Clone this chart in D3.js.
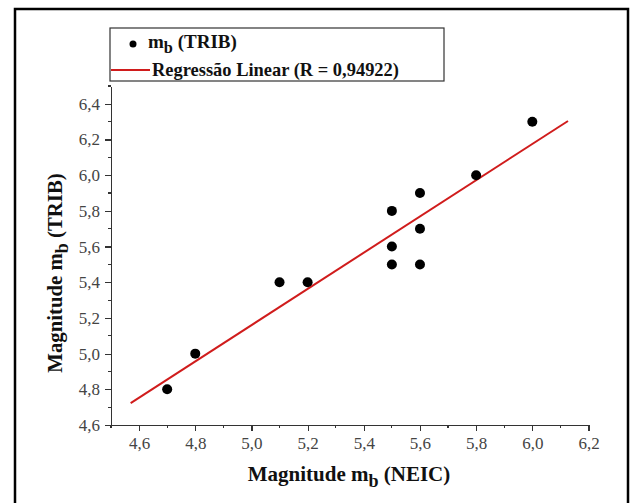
<!DOCTYPE html>
<html>
	<head>
		<meta charset="utf-8">
		<title>mb TRIB x NEIC</title>
		<script type="text/javascript" src="https://d3js.org/d3.v7.min.js"></script>
		<style type="text/css">
			body, html {
				margin: 0;
				padding: 0;
				background: #fff;
			}
			svg text {
				font-family: "Liberation Serif", Tinos, "Times New Roman", Times, "DejaVu Serif", serif;
			}
			.axis path, .axis line {
				stroke: #333;
				stroke-width: 1.2px;
				shape-rendering: crispEdges;
			}
			.axis text {
				fill: #444;
				font-size: 17px;
			}
			.title, .legend text {
				font-weight: bold;
				fill: #111;
			}
		</style>
	</head>
	<body>
		<div id="chart"></div>
		<script type="text/javascript">
			// data
			var neic = [4.7, 4.8, 5.1, 5.2, 5.5, 5.5, 5.5, 5.6, 5.6, 5.6, 5.8, 6.0];
			var trib = [4.8, 5.0, 5.4, 5.4, 5.8, 5.6, 5.5, 5.9, 5.7, 5.5, 6.0, 6.3];
			// ends of the fitted line (x, y)
			var fitX = [4.57, 6.127];
			var fitY = [4.723, 6.304];
			var xTicks = [4.6, 4.8, 5.0, 5.2, 5.4, 5.6, 5.8, 6.0, 6.2];
			var yTicks = [4.6, 4.8, 5.0, 5.2, 5.4, 5.6, 5.8, 6.0, 6.2, 6.4];
			var xMinor = [4.5, 4.7, 4.9, 5.1, 5.3, 5.5, 5.7, 5.9, 6.1];
			var yMinor = [4.7, 4.9, 5.1, 5.3, 5.5, 5.7, 5.9, 6.1, 6.3, 6.5];
			var rText = "Regressão Linear (R = 0,94922)";

			var W = 631, H = 503;
			var svg = d3.select("#chart").append("svg")
				.attr("width", W)
				.attr("height", H)
				.style("display", "block");

			// text with a subscript b, sized so it spans "len" px
			function subText(g, pre, post, len, dy) {
				var t = g.append("text");
				t.append("tspan").text(pre);
				var s = t.append("tspan").attr("dy", dy).text("b");
				t.append("tspan").attr("dy", -dy).text(post);
				t.attr("font-size", 18);
				s.attr("font-size", 15.5);
				var k = len / t.node().getComputedTextLength();
				t.attr("font-size", 18 * k);
				s.attr("font-size", 15.5 * k);
				return t;
			}

			// outer frame (bottom edge is cut off in the picture)
			svg.append("path")
				.attr("d", "M15," + (H + 5) + "V9H628V" + (H + 5))
				.attr("fill", "none")
				.attr("stroke", "#000")
				.attr("stroke-width", 2.5);

			var x = d3.scaleLinear().domain([4.5, 6.2]).range([111, 588.5]);
			var y = d3.scaleLinear().domain([4.6, 6.5]).range([425, 86]);
			var fmt = function(d) { return d3.format(".1f")(d).replace(".", ","); };

			var gx = svg.append("g")
				.attr("class", "axis")
				.attr("transform", "translate(0," + y(4.6) + ")")
				.call(d3.axisBottom(x).tickValues(xTicks).tickFormat(fmt)
					.tickSizeInner(6).tickSizeOuter(0).tickPadding(6));
			gx.selectAll(".minor").data(xMinor).enter().append("line")
				.attr("class", "minor")
				.attr("x1", function(d) { return x(d); })
				.attr("x2", function(d) { return x(d); })
				.attr("y1", 0).attr("y2", 3);

			var gy = svg.append("g")
				.attr("class", "axis")
				.attr("transform", "translate(" + x(4.5) + ",0)")
				.call(d3.axisLeft(y).tickValues(yTicks).tickFormat(fmt)
					.tickSizeInner(6).tickSizeOuter(0).tickPadding(5));
			gy.selectAll(".minor").data(yMinor).enter().append("line")
				.attr("class", "minor")
				.attr("y1", function(d) { return y(d); })
				.attr("y2", function(d) { return y(d); })
				.attr("x1", 0).attr("x2", -3);

			svg.selectAll(".axis").attr("font-family", null);

			// regression line
			svg.append("line")
				.attr("x1", x(fitX[0])).attr("y1", y(fitY[0]))
				.attr("x2", x(fitX[1])).attr("y2", y(fitY[1]))
				.attr("stroke", "#d01c1c")
				.attr("stroke-width", 2);

			svg.selectAll(".dot").data(neic).enter().append("circle")
				.attr("class", "dot")
				.attr("cx", function(d) { return x(d); })
				.attr("cy", function(d, i) { return y(trib[i]); })
				.attr("r", 5)
				.attr("fill", "#000");

			// axis titles
			var gtx = svg.append("g").attr("transform", "translate(349,481)");
			subText(gtx, "Magnitude m", " (NEIC)", 190, 6)
				.attr("class", "title")
				.attr("text-anchor", "middle");

			var gty = svg.append("g").attr("transform", "translate(62,273) rotate(-90)");
			subText(gty, "Magnitude m", " (TRIB)", 187, 6)
				.attr("class", "title")
				.attr("text-anchor", "middle");

			// legend
			var lg = svg.append("g").attr("class", "legend");
			lg.append("rect")
				.attr("x", 110).attr("y", 28)
				.attr("width", 334).attr("height", 53)
				.attr("fill", "#fff")
				.attr("stroke", "#333")
				.attr("stroke-width", 1.2);
			lg.append("circle")
				.attr("cx", 133).attr("cy", 44).attr("r", 3.5)
				.attr("fill", "#000");
			var l1 = lg.append("g").attr("transform", "translate(148,47.5)");
			subText(l1, "m", " (TRIB)", 89, 5);
			lg.append("line")
				.attr("x1", 111).attr("x2", 150)
				.attr("y1", 70).attr("y2", 70)
				.attr("stroke", "#d01c1c")
				.attr("stroke-width", 2);
			var l2 = lg.append("text").attr("x", 152).attr("y", 76)
				.attr("font-size", 18).text(rText);
			l2.attr("font-size", 18 * 247 / l2.node().getComputedTextLength());
		</script>
	</body>
</html>
